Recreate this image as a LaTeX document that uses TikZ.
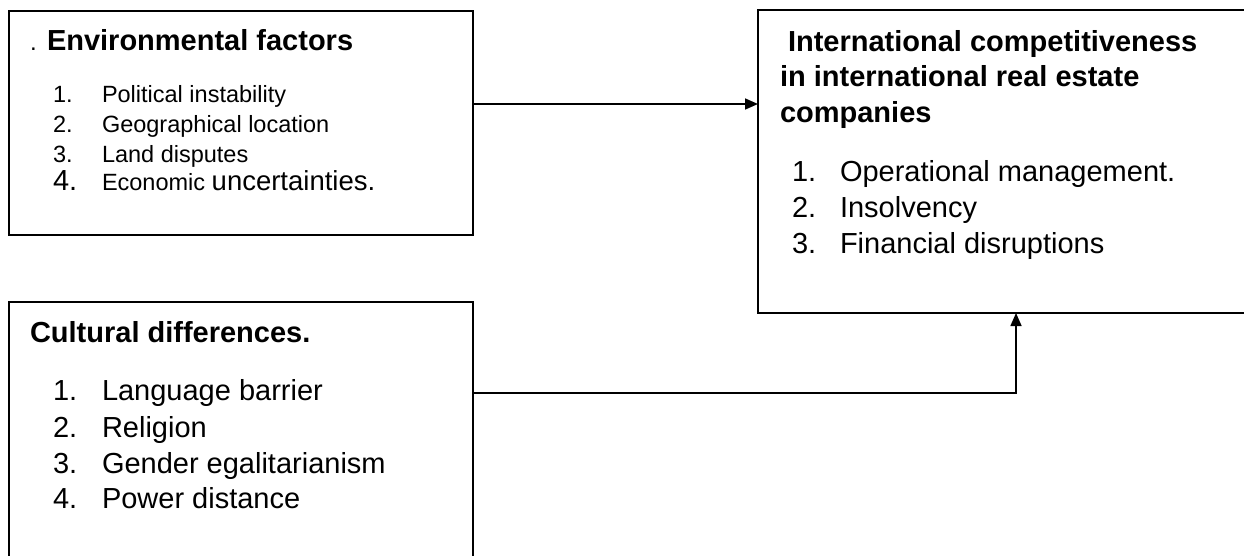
\documentclass[tikz,border=0pt]{standalone}
\usepackage{fontspec}
\setmainfont{Liberation Sans}
\usetikzlibrary{arrows.meta}
\tikzset{
  box/.style={draw, line width=1.5pt, rectangle, inner sep=0pt, outer sep=0pt, anchor=north west},
  txt/.style={anchor=base west, inner sep=0pt, outer sep=0pt},
  big/.style={txt, font=\fontsize{29}{34}\selectfont},
  bigb/.style={txt, font=\fontsize{29}{34}\selectfont\bfseries},
  small/.style={txt, font=\fontsize{23.5}{28}\selectfont},
  conn/.style={line width=1.6pt, -{Triangle[length=13pt,width=11pt]}}
}
\begin{document}
\begin{tikzpicture}[x=1pt,y=-1pt]
\useasboundingbox (0,0) rectangle (1244,556);
\clip (0,0) rectangle (1244,556);
% boxes
\node[box, minimum width=464pt, minimum height=224pt] (b1) at (9,11) {};
\node[box, minimum width=464pt, minimum height=300pt] (b2) at (9,302) {};
\node[box, minimum width=520pt, minimum height=303pt] (b3) at (758,10) {};
% box 1 text
\node[txt, font=\fontsize{24}{28}\selectfont] (e0) at (30,51) {.};
\node[bigb] (eh) at (47,51) {Environmental factors};
\node[small] (e1n) at (53,103) {1.};
\node[small] (e1t) at (102,103) {Political instability};
\node[small] (e2n) at (53,133) {2.};
\node[small] (e2t) at (102,133) {Geographical location};
\node[small] (e3n) at (53,163) {3.};
\node[small] (e3t) at (102,163) {Land disputes};
\node[big] (e4n) at (53,190) {4.};
\node[txt] (e4t) at (102,190) {\fontsize{23.5}{28}\selectfont Economic \fontsize{27.5}{32}\selectfont uncertainties.};
% box 2 text
\node[bigb] (ch) at (30,342) {Cultural differences.};
\node[big] (c1n) at (53,400) {1.};
\node[big] (c1t) at (102,400) {Language barrier};
\node[big] (c2n) at (53,437) {2.};
\node[big] (c2t) at (102,437) {Religion};
\node[big] (c3n) at (53,473) {3.};
\node[big] (c3t) at (102,473) {Gender egalitarianism};
\node[big] (c4n) at (53,508) {4.};
\node[big] (c4t) at (102,508) {Power distance};
% box 3 text
\node[bigb] (ih1) at (788,52) {International competitiveness};
\node[bigb] (ih2) at (780,87) {in international real estate};
\node[bigb] (ih3) at (780,123) {companies};
\node[big] (i1n) at (792,182) {1.};
\node[big] (i1t) at (840,182) {Operational management.};
\node[big] (i2n) at (792,217) {2.};
\node[big] (i2t) at (840,217) {Insolvency};
\node[big] (i3n) at (792,253) {3.};
\node[big] (i3t) at (840,253) {Financial disruptions};
% connectors
\coordinate (a1) at (600,104);
\coordinate (j) at (1016,393);
\draw[conn] (b1.east |- a1) -- (b3.west |- a1);
\draw[conn] (b2.east |- j) -- (j) -- (j |- b3.south);
\end{tikzpicture}
\end{document}
